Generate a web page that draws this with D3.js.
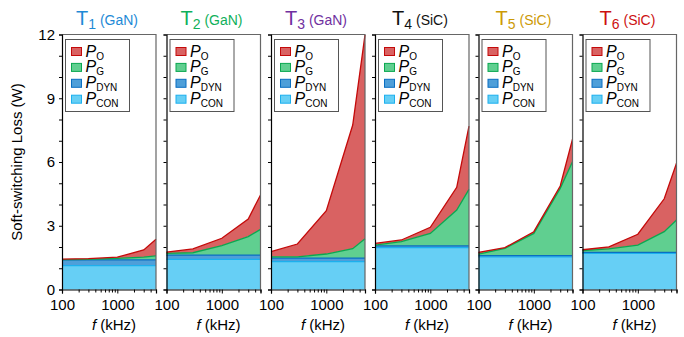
<!DOCTYPE html>
<html>
<head>
<meta charset="utf-8">
<script src="https://cdn.jsdelivr.net/npm/d3@7"></script>
<style>
  body { margin: 0; background: #fff; }
  svg { font-family: "Liberation Sans", Arial, sans-serif; }
</style>
</head>
<body>
<script>
// switching frequencies (kHz)
const freqs = [100, 300, 1000, 3000, 5000]
const devices = ["1", "2", "3", "4", "5", "6"]
const materials = ["GaN", "GaN", "GaN", "SiC", "SiC", "SiC"]
const titleColors = ["#1e8ad6", "#10b05a", "#7030a0", "#111", "#cc9a06", "#cc1010"]
// loss components (W), one row per device, one value per frequency
const pCon = [
  [1.12, 1.12, 1.12, 1.12, 1.12],
  [1.42, 1.42, 1.42, 1.42, 1.42],
  [1.31, 1.31, 1.31, 1.31, 1.31],
  [1.97, 1.97, 1.97, 1.97, 1.97],
  [1.54, 1.54, 1.54, 1.54, 1.54],
  [1.70, 1.70, 1.70, 1.70, 1.70]
]
const pDyn = [
  [0.27, 0.27, 0.27, 0.27, 0.27],
  [0.20, 0.20, 0.20, 0.20, 0.20],
  [0.17, 0.17, 0.17, 0.17, 0.17],
  [0.08, 0.08, 0.08, 0.08, 0.08],
  [0.05, 0.05, 0.05, 0.05, 0.05],
  [0.05, 0.05, 0.05, 0.05, 0.05]
]
const pG = [
  [0.02, 0.03, 0.07, 0.13, 0.19],
  [0.08, 0.11, 0.44, 0.87, 1.21],
  [0.06, 0.06, 0.19, 0.44, 0.91],
  [0.04, 0.20, 0.59, 1.69, 2.66],
  [0.08, 0.35, 1.05, 3.17, 4.42],
  [0.08, 0.16, 0.34, 0.97, 1.52]
]
const pO = [
  [0.02, 0.03, 0.06, 0.34, 0.78],
  [0.06, 0.18, 0.35, 0.83, 1.62],
  [0.24, 0.60, 2.04, 5.82, 9.59],
  [0.08, 0.08, 0.29, 1.07, 2.98],
  [0.08, 0.03, 0.08, 0.11, 1.06],
  [0.04, 0.10, 0.51, 1.55, 2.67]
]
const yTicks = [0, 3, 6, 9, 12]
const xTicks = [100, 1000]
const legendNames = ["O", "G", "DYN", "CON"]

const series = [
  {key: "CON", fill: "#66cff5", stroke: "#1cb0ee"},
  {key: "DYN", fill: "#4e9fd9", stroke: "#0a6fc2"},
  {key: "G", fill: "#60cf90", stroke: "#0aa850"},
  {key: "O", fill: "#d96262", stroke: "#c40a0a"}
]
const byKey = {CON: pCon, DYN: pDyn, G: pG, O: pO}

let W = 684, H = 337
let svg = d3.select("body").append("svg").attr("width", W).attr("height", H)

let pw = 94, yTop = 34.5, yBottom = 289.5
let lefts = [62, 166.5, 271, 375, 478.5, 582.5]

let y = d3.scaleLinear().domain([0, 12]).range([yBottom, yTop])

lefts.forEach((x0, i) => {
    let x = d3.scaleLog().domain([100, 5000]).range([x0, x0 + pw])
    let g = svg.append("g")

    // stack the components
    let cum = freqs.map(() => 0)
    let layers = series.map(s => {
        let vals = byKey[s.key][i]
        let pts = freqs.map((f, j) => {
            let lo = cum[j]
            cum[j] += vals[j]
            return {f: f, lo: lo, hi: cum[j]}
        })
        return {s: s, pts: pts}
    })
    let area = d3.area().x(d => x(d.f)).y0(d => y(d.lo)).y1(d => y(d.hi))
    let line = d3.line().x(d => x(d.f)).y(d => y(d.hi))
    layers.forEach(l => {
        g.append("path").attr("d", area(l.pts)).attr("fill", l.s.fill)
    })
    layers.forEach(l => {
        g.append("path").attr("d", line(l.pts)).attr("fill", "none")
            .attr("stroke", l.s.stroke).attr("stroke-width", 1.3)
    })

    // frame
    g.append("path")
        .attr("d", `M${x0},${yTop}H${x0 + pw}V${yBottom}`)
        .attr("fill", "none").attr("stroke", "#666").attr("stroke-width", 1.2)

    // y axis
    let yAxis = d3.axisLeft(y).tickValues(d3.range(0, 13)).tickSize(3)
        .tickFormat(d => (i == 0 && yTicks.includes(d)) ? d : "")
    let ya = g.append("g").attr("transform", `translate(${x0},0)`).call(yAxis)
    ya.select(".domain").attr("stroke", "#000").attr("stroke-width", 1.2)
    ya.selectAll("text").attr("font-size", 15).attr("fill", "#000")
        .attr("font-family", "Liberation Sans, Arial, sans-serif").attr("x", -7)

    // x axis
    let minor = [200, 300, 400, 500, 600, 700, 800, 900, 2000, 3000, 4000, 5000]
    let xAxis = d3.axisBottom(x).tickValues(xTicks.concat(minor)).tickSize(4)
        .tickFormat(d => xTicks.includes(d) ? d : "")
    let xa = g.append("g").attr("transform", `translate(0,${yBottom})`).call(xAxis)
    xa.select(".domain").attr("stroke", "#000").attr("stroke-width", 1.2)
    xa.selectAll(".tick").filter(d => !xTicks.includes(d)).select("line").attr("y2", 3)
    xa.selectAll("text").attr("font-size", 15).attr("fill", "#000")
        .attr("font-family", "Liberation Sans, Arial, sans-serif").attr("y", 10)

    let xl = g.append("text").attr("x", x0 + pw / 2 + 5).attr("y", 330)
        .attr("text-anchor", "middle").attr("font-size", 15)
    xl.append("tspan").attr("font-style", "italic").text("f")
    xl.append("tspan").text(" (kHz)")

    // title
    let t = g.append("text").attr("x", x0 + pw / 2 - 2).attr("y", 25)
        .attr("text-anchor", "middle").attr("fill", titleColors[i])
    t.append("tspan").attr("font-size", 20).text("T")
    t.append("tspan").attr("font-size", 14).attr("dy", 4).text(devices[i])
    t.append("tspan").attr("font-size", 14).attr("dy", -4).text(" (" + materials[i] + ")")

    // legend
    let lg = g.append("g").attr("transform", `translate(${x0 + 3.5},${yTop + 5})`)
    lg.append("rect").attr("width", 64).attr("height", 72)
        .attr("fill", "#fff").attr("stroke", "#555").attr("stroke-width", 1)
    legendNames.forEach((n, k) => {
        let s = series.find(d => d.key == n)
        let cy = 12 + k * 15.9
        lg.append("rect").attr("x", 6).attr("y", cy - 4).attr("width", 10).attr("height", 8)
            .attr("fill", s.fill).attr("stroke", s.stroke).attr("stroke-width", 1)
        let tx = lg.append("text").attr("x", 20).attr("y", cy + 5).attr("font-size", 16)
        tx.append("tspan").attr("font-style", "italic").text("P")
        tx.append("tspan").attr("font-size", 10).attr("dy", 3).text(n)
    })
})

svg.append("text")
    .attr("transform", "translate(22,162) rotate(-90)")
    .attr("text-anchor", "middle").attr("font-size", 15)
    .text("Soft-switching Loss (W)")
</script>
</body>
</html>
